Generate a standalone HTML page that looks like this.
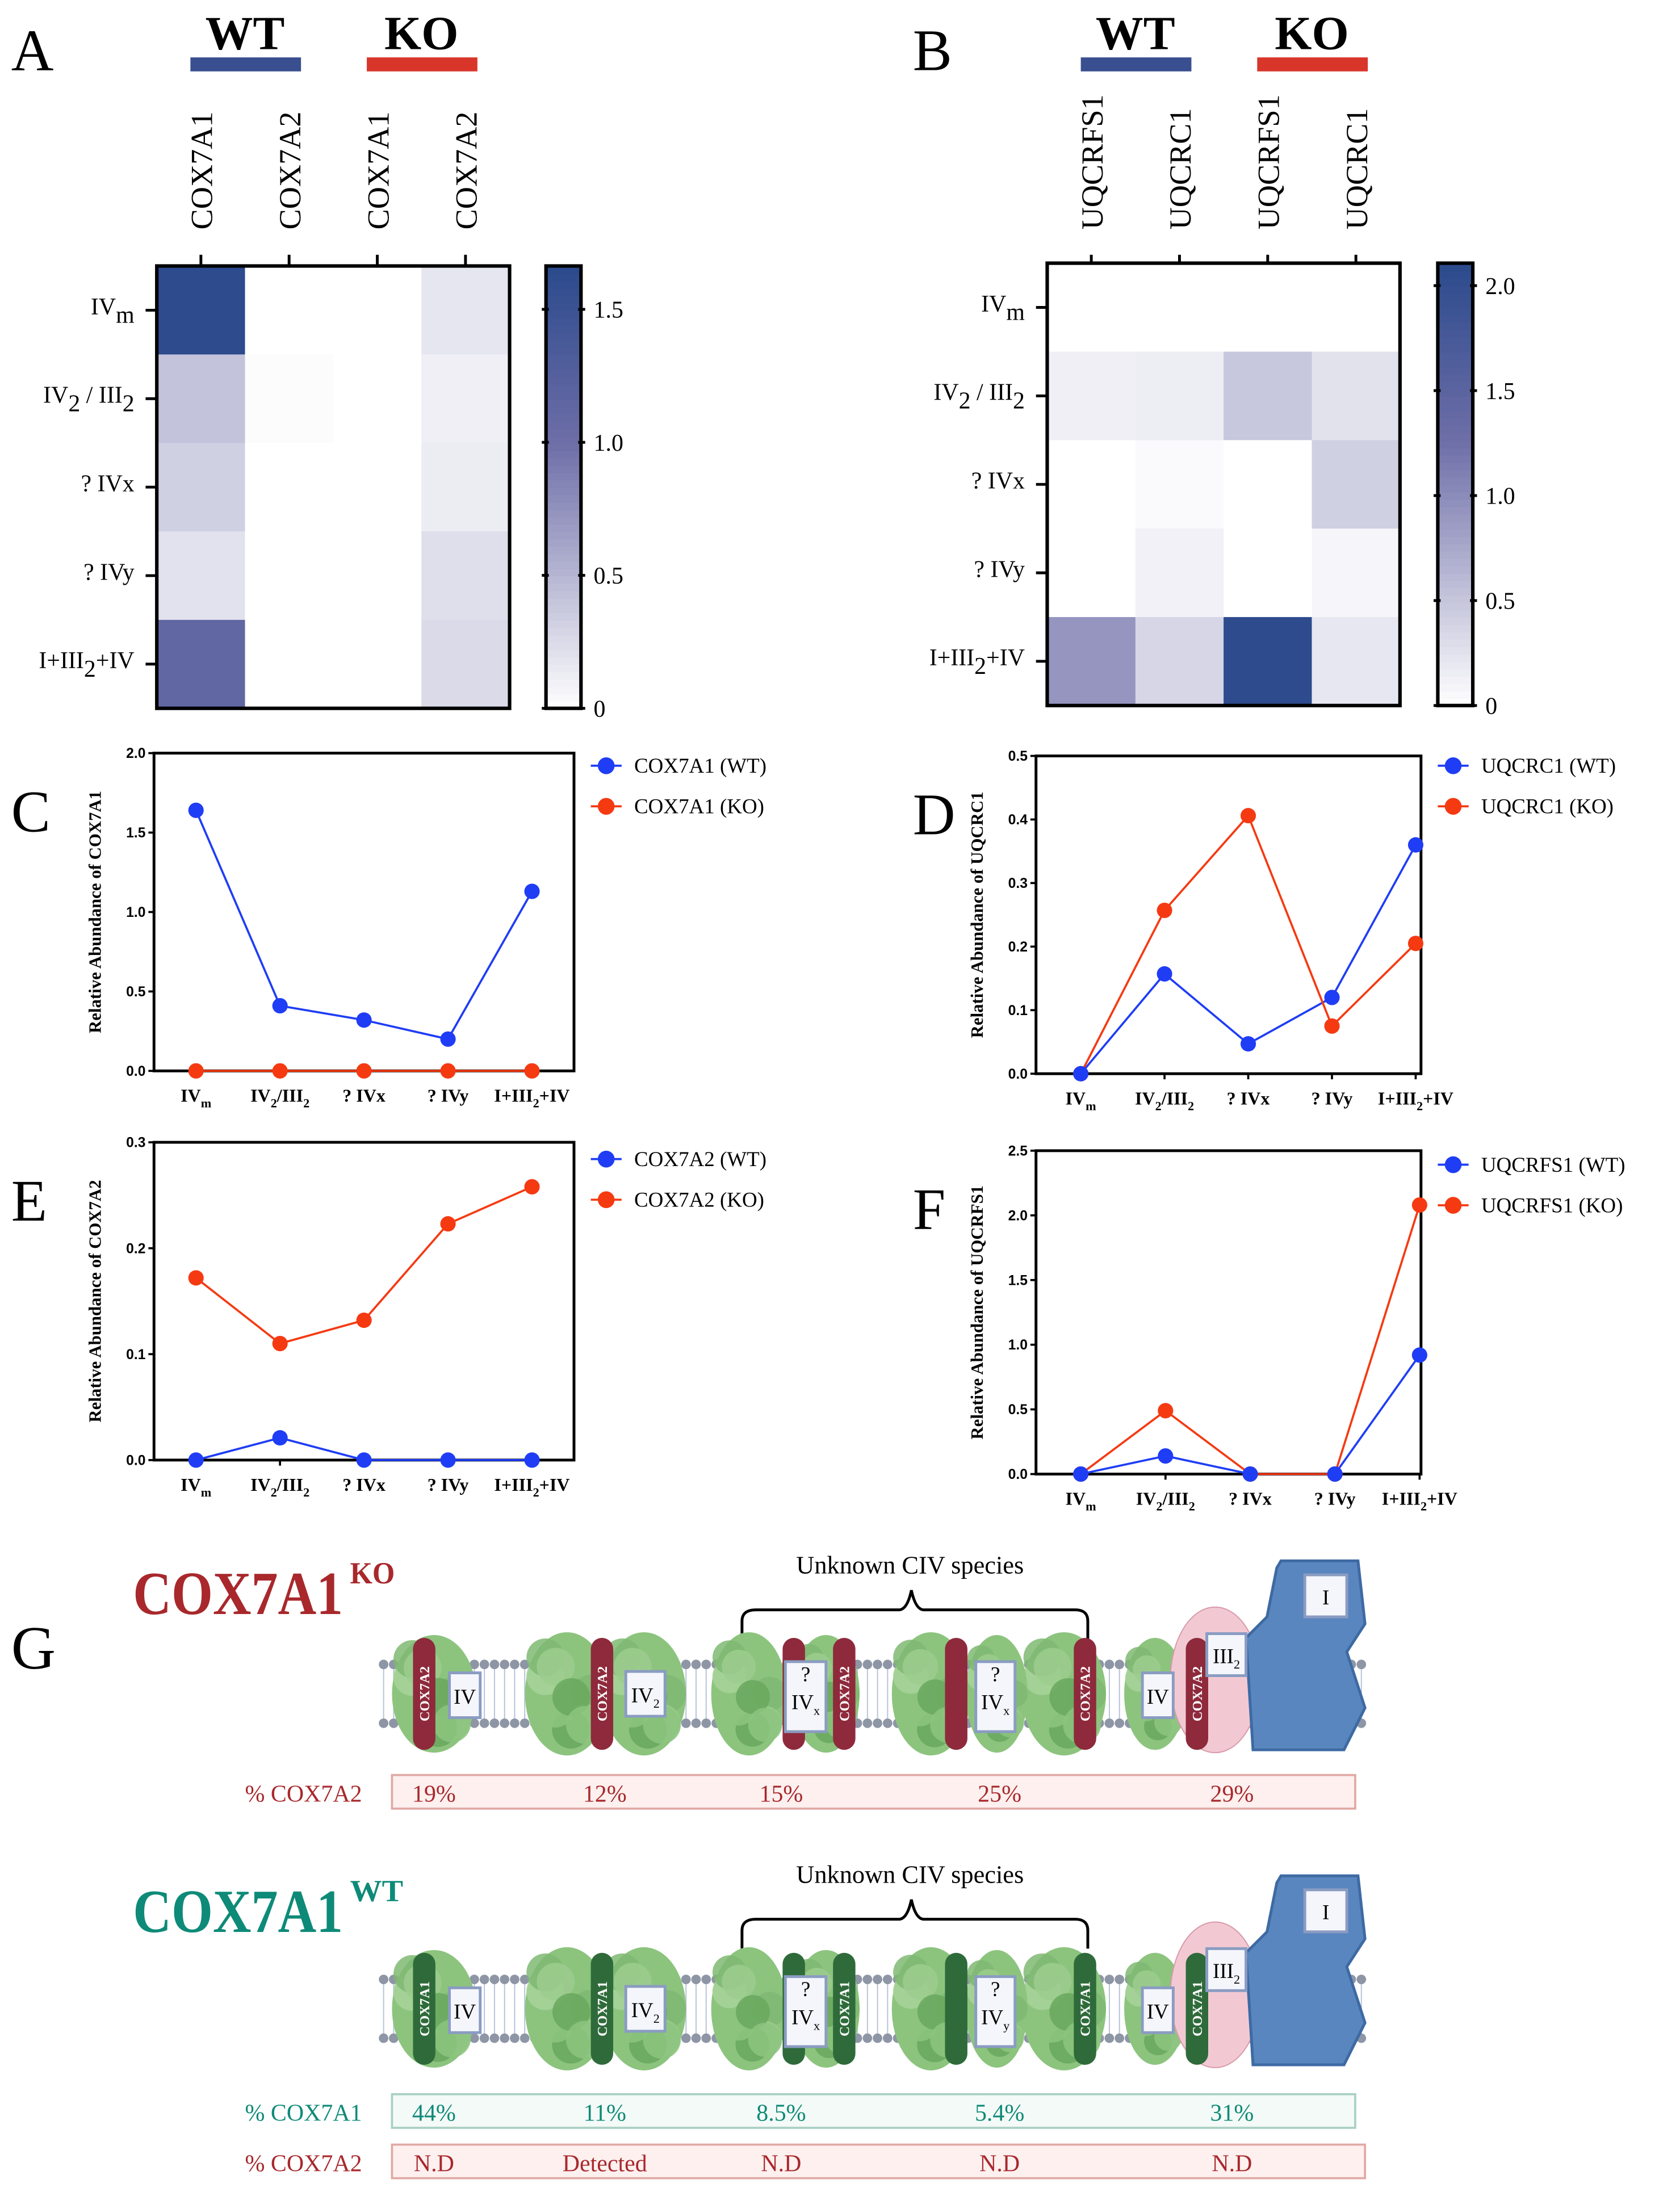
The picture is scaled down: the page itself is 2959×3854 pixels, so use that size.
<!DOCTYPE html>
<html><head><meta charset="utf-8">
<style>
html,body{margin:0;padding:0;background:#fff;}
svg{display:block;}
text{font-family:"Liberation Serif",serif;}
.sans{font-family:"Liberation Sans",sans-serif;}
</style></head>
<body>
<svg id="fig" xmlns="http://www.w3.org/2000/svg" width="2959" height="3854" viewBox="0 0 1200 1563" preserveAspectRatio="none">
</svg>
<script>
// ---------- DATA ----------
const rowsAB = ["IVm","IV2/III2","?IVx","?IVy","I+III2+IV"];
const colsA = ["COX7A1","COX7A2","COX7A1","COX7A2"];
const colsB = ["UQCRFS1","UQCRC1","UQCRFS1","UQCRC1"];
const cox7a1WT = [1.64,0.41,0.32,0.20,1.13];
const cox7a1KO = [0,0,0,0,0];
const cox7a2WT = [0,0.021,0,0,0];
const cox7a2KO = [0.172,0.110,0.132,0.223,0.258];
const uqcrc1WT = [0,0.157,0.047,0.12,0.36];
const uqcrc1KO = [0,0.257,0.406,0.075,0.205];
const uqcrfs1WT = [0,0.14,0,0,0.92];
const uqcrfs1KO = [0,0.49,0,0,2.08];
const ticksA = [0,0.5,1.0,1.5];
const ticksB = [0,0.5,1.0,1.5,2.0];
const ticksC = [0,0.5,1.0,1.5,2.0];
const ticksD = [0,0.1,0.2,0.3,0.4,0.5];
const ticksE = [0,0.1,0.2,0.3];
const ticksF = [0,0.5,1.0,1.5,2.0,2.5];
const pctKO_A2 = ["19%","12%","15%","25%","29%"];
const pctWT_A1 = ["44%","11%","8.5%","5.4%","31%"];
const pctWT_A2 = ["N.D","Detected","N.D","N.D","N.D"];

const NS="http://www.w3.org/2000/svg";
const svg=document.getElementById('fig');
function mk(tag,at,parent){const e=document.createElementNS(NS,tag);for(const k in at)e.setAttribute(k,at[k]);(parent||svg).appendChild(e);return e;}
function txt(s,at,parent){const e=mk('text',at,parent);e.textContent=s;return e;}

function lerp(a,b,t){return a+(b-a)*t;}
function cmap(t){t=Math.max(0,Math.min(1,t));let c;
 if(t<0.6){const u=t/0.6;c=[lerp(255,110,u),lerp(255,110,u),lerp(255,168,u)];}
 else{const u=(t-0.6)/0.4;c=[lerp(110,43,u),lerp(110,74,u),lerp(168,140,u)];}
 return `rgb(${c.map(Math.round).join(',')})`;}

const labelParts=[[["IV",0],["m",1]],[["IV",0],["2",1],[" / III",0],["2",1]],[["? IVx",0]],[["? IVy",0]],[["I+III",0],["2",1],["+IV",0]]];
const labelParts2=[[["IV",0],["m",1]],[["IV",0],["2",1],["/III",0],["2",1]],[["? IVx",0]],[["? IVy",0]],[["I+III",0],["2",1],["+IV",0]]];
function richText(parts,at,size,subSize,shift,g){
 const t=mk('text',at,g);
 let cur=0;
 parts.forEach(p=>{
  const target=p[1]?shift:0;
  const s=mk('tspan',{'font-size':p[1]?subSize:size,dy:target-cur},t);
  s.textContent=p[0];cur=target;
 });
 return t;
}
function rowLabel(i,x,y,g){
 return richText(labelParts[i],{x:x,y:y,'font-size':17,'text-anchor':'end'},17,17,6,g);
}

function heatmap(x0,y0,w,h,cols,colNames,vmax,cbx,ticks,letter,lx){
 const g=mk('g',{});
 
 
 const L=txt(letter,{x:lx,y:50,'font-size':42},g);
 
 
 const cw=w/4,rh=h/5;
 [[0,'WT','#3a4f8f'],[2,'KO','#d9362b']].forEach(([c,s,col])=>{
  const cx=x0+cw*(c+1);
  const t=txt(s,{x:cx,y:35,'font-size':34,'font-weight':'bold','text-anchor':'middle'},g);
  
  
  const b=mk('rect',{x:cx-39,y:41,width:79,height:10,fill:col},g);
  
  
 });
 cols.forEach((vals,c)=>{
  const cx=x0+cw*c+cw/2;
  const t=txt(colNames[c],{x:0,y:0,'font-size':22,transform:`translate(${cx+8},164) rotate(-90)`},g);
  
  
  const tk=mk('line',{x1:cx,x2:cx,y1:182,y2:190,stroke:'#000','stroke-width':2},g);
  
  
  vals.forEach((v,r)=>{
   const cell=mk('rect',{x:x0+cw*c,y:y0+rh*r,width:cw+0.5,height:rh+0.5,fill:cmap(v/vmax)},g);
   
   
  });
 });
 for(let r=0;r<5;r++){
  const cy=y0+rh*r+rh/2;
  const tk=mk('line',{x1:x0-8,x2:x0,y1:cy,y2:cy,stroke:'#000','stroke-width':2},g);
  
  
  const lb=rowLabel(r,x0-16,cy+3,g);
  
  
 }
 const fr=mk('rect',{x:x0,y:y0,width:w,height:h,fill:'none',stroke:'#000','stroke-width':2.5},g);
 
 
 const cg=mk('g',{},g);
 
 
 const N=60;
 for(let i=0;i<N;i++){
  const s=mk('rect',{x:cbx,y:y0+h-(i+1)*h/N,width:25,height:h/N+0.6,fill:cmap((i+0.5)/N)},cg);
  
  
 }
 mk('rect',{x:cbx,y:y0,width:25,height:h,fill:'none',stroke:'#000','stroke-width':2.5},cg);
 ticks.forEach(tv=>{
  const ty=y0+h-tv/vmax*h;
  mk('line',{x1:cbx+23,x2:cbx+28,y1:ty,y2:ty,stroke:'#000','stroke-width':2},cg);
  mk('line',{x1:cbx-3,x2:cbx+2,y1:ty,y2:ty,stroke:'#000','stroke-width':2},cg);
  const t=txt(tv===0?'0':tv.toFixed(1),{x:cbx+34,y:ty+6,'font-size':17},cg);
  
  
 });
}
heatmap(112,190,252,316,[cox7a1WT,cox7a2WT,cox7a1KO,cox7a2KO],colsA,1.663,390,ticksA,'A',8);
heatmap(748,188,252,316,[uqcrfs1WT,uqcrc1WT,uqcrfs1KO,uqcrc1KO],colsB,2.107,1027,ticksB,'B',652);

function xLabel(i,x,y,g){
 return richText(labelParts2[i],{x:x,y:y,'font-size':13,'font-weight':'bold','text-anchor':'middle'},13,9,4,g);
}

function lineChart(letter,x0,y0,w,h,ymax,ticks,x1,dx,wt,ko,gene,ly,lx){
 const g=mk('g',{});
 
 
 const L=txt(letter,{x:lx,y:y0+56,'font-size':42},g);
 
 
 const ys=v=>y0+h-v/ymax*h;
 const xs=i=>x1+dx*i;
 const fr=mk('rect',{x:x0,y:y0,width:w,height:h,fill:'none',stroke:'#000','stroke-width':2},g);
 
 
 ticks.forEach(tv=>{
  const y=ys(tv);
  mk('line',{x1:x0-4,x2:x0,y1:y,y2:y,stroke:'#000','stroke-width':1.5},g);
  const t=txt(tv.toFixed(1),{x:x0-6,y:y+3.5,'font-size':10,'font-weight':'bold','text-anchor':'end',class:'sans'},g);
  
  
 });
 for(let i=0;i<5;i++){
  mk('line',{x1:xs(i),x2:xs(i),y1:y0+h,y2:y0+h+4,stroke:'#000','stroke-width':1.5},g);
  const t=xLabel(i,xs(i),y0+h+22,g);
  
  
 }
 const yt=txt('Relative Abundance of '+gene,{x:0,y:0,'font-size':12.5,'font-weight':'bold','text-anchor':'middle',transform:`translate(${x0-38},${y0+h/2}) rotate(-90)`},g);
 
 
 [[wt,'#1f3df5','WT'],[ko,'#f53a12','KO']].forEach(([d,col,nm])=>{
  const pl=mk('polyline',{points:d.map((v,i)=>xs(i)+','+ys(v)).join(' '),fill:'none',stroke:col,'stroke-width':1.5},g);
  
  
 });
 [[ko,'#f53a12','KO'],[wt,'#1f3df5','WT']].forEach(([d,col,nm])=>{
  d.forEach((v,i)=>{
   const c=mk('circle',{cx:xs(i),cy:ys(v),r:5.5,fill:col},g);
   
   
  });
 });
 const lxs=x0+w+12;
 [['#1f3df5','WT'],['#f53a12','KO']].forEach(([col,nm],k)=>{
  const yy=ly+k*29;
  const lg=mk('g',{},g);
  
  
  mk('line',{x1:lxs,x2:lxs+22,y1:yy,y2:yy,stroke:col,'stroke-width':1.5},lg);
  mk('circle',{cx:lxs+11,cy:yy,r:6,fill:col},lg);
  txt(gene+' ('+nm+')',{x:lxs+31,y:yy+5,'font-size':15},lg);
 });
}
lineChart('C',110,538,300,227,2.0,ticksC,140,60,cox7a1WT,cox7a1KO,'COX7A1',547,8);
lineChart('D',740,540,275,227,0.5,ticksD,772,59.8,uqcrc1WT,uqcrc1KO,'UQCRC1',547,652);
lineChart('E',110,816,300,227,0.3,ticksE,140,60,cox7a2WT,cox7a2KO,'COX7A2',828,8);
lineChart('F',740,822,275,231,2.5,ticksF,772,60.5,uqcrfs1WT,uqcrfs1KO,'UQCRFS1',832,652);

// ---------- Panel G ----------
const GL=txt('G',{x:8,y:1192,'font-size':44},svg);



function membrane(yc,g){
 for(let x=274;x<=975;x+=7.2){
  mk('line',{x1:x,x2:x,y1:yc-18,y2:yc+18,stroke:'#b8c2d8','stroke-width':0.8},g);
  mk('circle',{cx:x,cy:yc-21,r:3.4,fill:'#8e96a6'},g);
  mk('circle',{cx:x,cy:yc+21,r:3.4,fill:'#8e96a6'},g);
 }
}
function blob(cx,cy,rx,ry,g){
 const cols=['#7fb972','#9ccd8e','#6aa85e','#8cc47e','#a7d39a'];
 mk('ellipse',{cx:cx,cy:cy,rx:rx,ry:ry,fill:'#8cc47e'},g);
 for(let i=0;i<9;i++){
  const a=i*0.7;
  mk('circle',{cx:cx+Math.cos(a)*rx*0.55,cy:cy+Math.sin(a*1.3)*ry*0.6,r:Math.min(rx,ry)*0.45,fill:cols[i%5],opacity:0.85},g);
 }
}
function sub(x,yc,col,label,g){
 mk('rect',{x:x-8,y:yc-40,width:16,height:80,rx:8,fill:col},g);
 txt(label,{x:0,y:0,'font-size':10,'font-weight':'bold',fill:'#fff','text-anchor':'middle',transform:`translate(${x+3.5},${yc}) rotate(-90)`},g);
}
function lbox(x,y,w,h,lines,g){
 mk('rect',{x:x,y:y,width:w,height:h,fill:'#f4f6fb',stroke:'#8a9cc2','stroke-width':2},g);
 lines.forEach((l,i)=>{
  const t=txt('',{x:x+w/2,y:y+(lines.length===1?h/2+6:14+i*20),'font-size':15,'text-anchor':'middle'},g);
  const a=mk('tspan',{},t);a.textContent=l[0];
  if(l[1]){const b=mk('tspan',{'font-size':9,dy:4},t);b.textContent=l[1];}
 });
}
function diagram(yc,subCol,subLab,yLabel,name){
 const g=mk('g',{});
 
 
 membrane(yc,g);
 blob(310,yc,30,42,g);
 blob(405,yc,30,44,g);blob(460,yc,30,44,g);
 blob(535,yc,27,44,g);blob(590,yc,24,42,g);
 blob(665,yc,28,44,g);blob(760,yc,30,44,g);blob(712,yc,22,42,g);
 blob(825,yc,22,40,g);
 mk('ellipse',{cx:868,cy:yc-10,rx:32,ry:52,fill:'#f2c9d3',stroke:'#d89aaa','stroke-width':0.8},g);
 mk('path',{d:`M895 ${yc+40} L890 ${yc-40} L905 ${yc-55} L912 ${yc-90} L915 ${yc-95} L970 ${yc-95} L975 ${yc-50} L962 ${yc-30} L975 ${yc+10} L960 ${yc+40} Z`,fill:'#5a86bf',stroke:'#3e6aa3','stroke-width':2},g);
 sub(303,yc,subCol,subLab,g);
 sub(430,yc,subCol,subLab,g);
 sub(567,yc,subCol,'',g);
 sub(603,yc,subCol,subLab,g);
 sub(683,yc,subCol,'',g);
 sub(775,yc,subCol,subLab,g);
 sub(855,yc,subCol,subLab,g);
 lbox(321,yc-15,22,32,[['IV']],g);
 lbox(447,yc-16,28,32,[['IV','2']],g);
 lbox(561,yc-23,29,50,[['?'],['IV','x']],g);
 lbox(697,yc-23,28,50,[['?'],['IV',yLabel]],g);
 lbox(816,yc-15,22,32,[['IV']],g);
 lbox(862,yc-43,28,30,[['III','2']],g);
 lbox(932,yc-85,30,30,[['I']],g);
}
function section(titleY,title,sup,col,unkY){
 const t=txt(title,{x:95,y:titleY,'font-size':44,'font-weight':'bold',fill:col,textLength:150,lengthAdjust:'spacingAndGlyphs'},svg);
 
 
 const s=txt(sup,{x:250,y:titleY-22,'font-size':22,'font-weight':'bold',fill:col,textLength:sup==='KO'?32:38,lengthAdjust:'spacingAndGlyphs'},svg);
 
 
 const u=txt('Unknown CIV species',{x:650,y:unkY,'font-size':18,'text-anchor':'middle'},svg);
 
 
 const b=mk('path',{d:`M530 ${unkY+47} L530 ${unkY+34} Q530 ${unkY+26} 540 ${unkY+26} L642 ${unkY+26} Q648 ${unkY+26} 651 ${unkY+12} Q654 ${unkY+26} 660 ${unkY+26} L768 ${unkY+26} Q777 ${unkY+26} 777 ${unkY+34} L777 ${unkY+47}`,fill:'none',stroke:'#000','stroke-width':2},svg);
 
 
}
section(1153,'COX7A1','KO','#a8282c',1124);
diagram(1210,'#8e2a3c','COX7A2','x','ko-diagram');
section(1380,'COX7A1','WT','#0e8a78',1345);
diagram(1435,'#2f6b3a','COX7A1','y','wt-diagram');

const pctX=[310,432,558,714,880];
function pctRow(y,label,col,fill,stroke,vals,x1,name){
 const g=mk('g',{});
 
 
 txt(label,{x:175,y:y+19,'font-size':17,fill:col},g);
 mk('rect',{x:280,y:y,width:x1-280,height:24,fill:fill,stroke:stroke,'stroke-width':1.5},g);
 vals.forEach((v,i)=>{
  const t=txt(v,{x:pctX[i],y:y+19,'font-size':17,fill:col,'text-anchor':'middle'},g);
  
  
 });
}
pctRow(1268,'% COX7A2','#a8282c','#fdf0ef','#e0a9a5',pctKO_A2,968,'ko-cox7a2-row');
pctRow(1496,'% COX7A1','#0e8a78','#f4faf7','#a8d0c4',pctWT_A1,968,'wt-cox7a1-row');
pctRow(1532,'% COX7A2','#a8282c','#fdf0ef','#e0a9a5',pctWT_A2,975,'wt-cox7a2-row');
</script>
</body></html>
